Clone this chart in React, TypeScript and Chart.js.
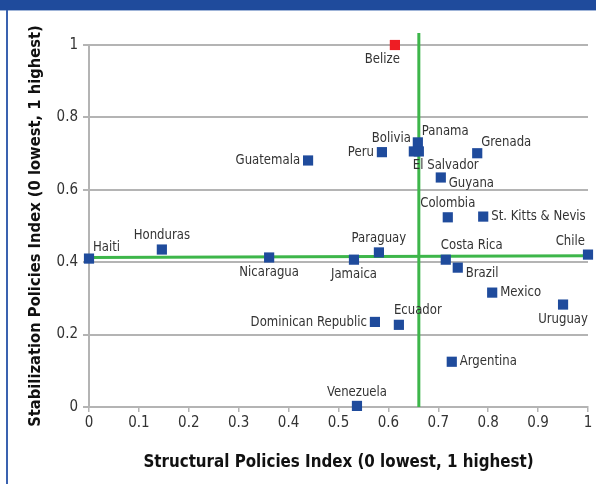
import React, { useEffect, useRef } from 'react';
import { Chart, registerables } from 'chart.js';

Chart.register(...registerables);

const countries = ['Belize', 'Panama', 'Bolivia', 'El Salvador', 'Peru', 'Guatemala', 'Grenada', 'Guyana', 'Colombia', 'St. Kitts & Nevis', 'Haiti', 'Honduras', 'Nicaragua', 'Jamaica', 'Paraguay', 'Costa Rica', 'Brazil', 'Mexico', 'Uruguay', 'Chile', 'Dominican Republic', 'Ecuador', 'Argentina', 'Venezuela'];
const structural = [0.613, 0.659, 0.651, 0.661, 0.587, 0.439, 0.778, 0.705, 0.719, 0.790, 0.0, 0.146, 0.361, 0.531, 0.581, 0.715, 0.739, 0.808, 0.950, 1.0, 0.573, 0.621, 0.727, 0.537];
const stabilization = [1.0, 0.731, 0.706, 0.706, 0.704, 0.681, 0.701, 0.634, 0.524, 0.526, 0.410, 0.435, 0.413, 0.407, 0.427, 0.407, 0.385, 0.316, 0.283, 0.421, 0.235, 0.227, 0.125, 0.003];
const labelPlacement = ['bl', 'tr', 'tl', 'bx', 'l', 'l', 'tr', 'r+', 't', 'r', 'tr', 't', 'b', 'b', 't', 'tx', 'r+', 'r', 'b', 'tl', 'l', 'tx', 'r', 't'];
const highlighted = ['Belize'];

const verticalRefX = [0.661, 0.661];
const verticalRefY = [0, 1.033];
const horizontalRefX = [0, 1];
const horizontalRefY = [0.413, 0.418];

const xTicks = [0, 0.1, 0.2, 0.3, 0.4, 0.5, 0.6, 0.7, 0.8, 0.9, 1];
const yTicks = [0, 0.2, 0.4, 0.6, 0.8, 1];

const xTitle = 'Structural Policies Index (0 lowest, 1 highest)';
const yTitle = 'Stabilization Policies Index (0 lowest, 1 highest)';

const FONT = '"Liberation Sans Narrow", "DejaVu Sans Condensed", "Arial Narrow", sans-serif';
const BLUE = '#1f4b9c';
const RED = '#ee1d24';
const GREEN = '#3db64a';
const GRID = '#b4b4b4';

const placements: Record<string, { align: CanvasTextAlign; dx: number; dy: number }> = {
  l: { align: 'right', dx: -8, dy: 0 },
  r: { align: 'left', dx: 8, dy: 0 },
  'r+': { align: 'left', dx: 8, dy: 6 },
  t: { align: 'center', dx: 0, dy: -14 },
  b: { align: 'center', dx: 0, dy: 15 },
  tr: { align: 'left', dx: 4, dy: -11 },
  tl: { align: 'right', dx: -3, dy: -13 },
  tx: { align: 'left', dx: -5, dy: -14 },
  bl: { align: 'right', dx: 5, dy: 14 },
  bx: { align: 'left', dx: -6, dy: 14 },
};

const labelPlugin = {
  id: 'pointLabels',
  afterDatasetsDraw(chart: any) {
    const meta = chart.getDatasetMeta(2);
    const ctx = chart.ctx;
    ctx.save();
    ctx.font = `14px ${FONT}`;
    ctx.fillStyle = '#333333';
    ctx.textBaseline = 'middle';
    meta.data.forEach((el: any, i: number) => {
      const p = placements[labelPlacement[i]];
      ctx.save();
      ctx.translate(el.x + p.dx, el.y + p.dy);
      ctx.scale(0.93, 1);
      ctx.textAlign = p.align;
      ctx.fillText(countries[i], 0, 0);
      ctx.restore();
    });
    ctx.restore();
  },
  afterDraw(chart: any) {
    const ctx = chart.ctx;
    const area = chart.chartArea;
    ctx.save();
    ctx.fillStyle = '#111111';
    ctx.textAlign = 'center';
    ctx.textBaseline = 'middle';
    ctx.font = `bold 16.8px ${FONT}`;
    ctx.fillText(xTitle, (area.left + area.right) / 2, 463);
    ctx.font = `bold 16.4px ${FONT}`;
    ctx.translate(36, (area.top + area.bottom) / 2);
    ctx.rotate(-Math.PI / 2);
    ctx.fillText(yTitle, 0, 0);
    ctx.restore();
  },
};

export default function App() {
  const ref = useRef<HTMLCanvasElement | null>(null);

  useEffect(() => {
    if (!ref.current) return;
    const chart = new Chart(ref.current, {
      type: 'scatter',
      data: {
        datasets: [
          {
            type: 'line',
            data: verticalRefX.map((x, i) => ({ x, y: verticalRefY[i] })),
            borderColor: GREEN,
            borderWidth: 3,
            pointRadius: 0,
            clip: false,
            order: 2,
          } as any,
          {
            type: 'line',
            data: horizontalRefX.map((x, i) => ({ x, y: horizontalRefY[i] })),
            borderColor: GREEN,
            borderWidth: 3,
            pointRadius: 0,
            clip: false,
            order: 2,
          } as any,
          {
            type: 'scatter',
            data: structural.map((x, i) => ({ x, y: stabilization[i] })),
            pointStyle: 'rect',
            pointRadius: 7.2,
            pointBorderWidth: 0,
            pointBackgroundColor: countries.map((c) => (highlighted.includes(c) ? RED : BLUE)),
            pointBorderColor: countries.map((c) => (highlighted.includes(c) ? RED : BLUE)),
            clip: false,
            order: 0,
          } as any,
        ],
      },
      options: {
        responsive: false,
        animation: false,
        layout: { padding: { left: 8, right: 8, top: 45, bottom: 0 } },
        plugins: { legend: { display: false }, tooltip: { enabled: false } },
        scales: {
          x: {
            type: 'linear',
            min: 0,
            max: 1,
            afterFit: (s: any) => { s.height = 77; },
            afterBuildTicks: (s: any) => { s.ticks = xTicks.map((v) => ({ value: v })); },
            ticks: {
              font: { family: FONT, size: 15 },
              color: '#333333',
              padding: 2,
              maxRotation: 0,
              autoSkip: false,
              callback: (v: any) => String(Number(Number(v).toFixed(1))),
            },
            grid: { drawOnChartArea: false, drawTicks: true, tickLength: 5, color: GRID, lineWidth: 1.5 },
            border: { display: true, color: GRID, width: 2 },
          },
          y: {
            type: 'linear',
            min: 0,
            max: 1,
            afterFit: (s: any) => { s.width = 81; },
            afterBuildTicks: (s: any) => { s.ticks = yTicks.map((v) => ({ value: v })); },
            ticks: {
              font: { family: FONT, size: 15 },
              color: '#333333',
              padding: 5,
              autoSkip: false,
              callback: (v: any) => String(Number(Number(v).toFixed(1))),
            },
            grid: { color: GRID, lineWidth: 2, tickLength: 6 },
            border: { display: true, color: GRID, width: 2 },
          },
        },
      },
      plugins: [labelPlugin],
    });
    return () => chart.destroy();
  }, []);

  return (
    <div style={{ position: 'fixed', left: 0, top: 0, width: 596, height: 484, background: '#ffffff', overflow: 'hidden' }}>
      <div style={{ position: 'absolute', left: 0, top: 0, width: 596, height: 10, background: BLUE }} />
      <div style={{ position: 'absolute', left: 0, top: 10, width: 596, height: 1, background: '#9fb4d8' }} />
      <div style={{ position: 'absolute', left: 6, top: 10, width: 2, height: 474, background: '#3a62b0' }} />
      <canvas ref={ref} width={596} height={484} style={{ position: 'absolute', left: 0, top: 0, width: 596, height: 484 }} />
    </div>
  );
}
